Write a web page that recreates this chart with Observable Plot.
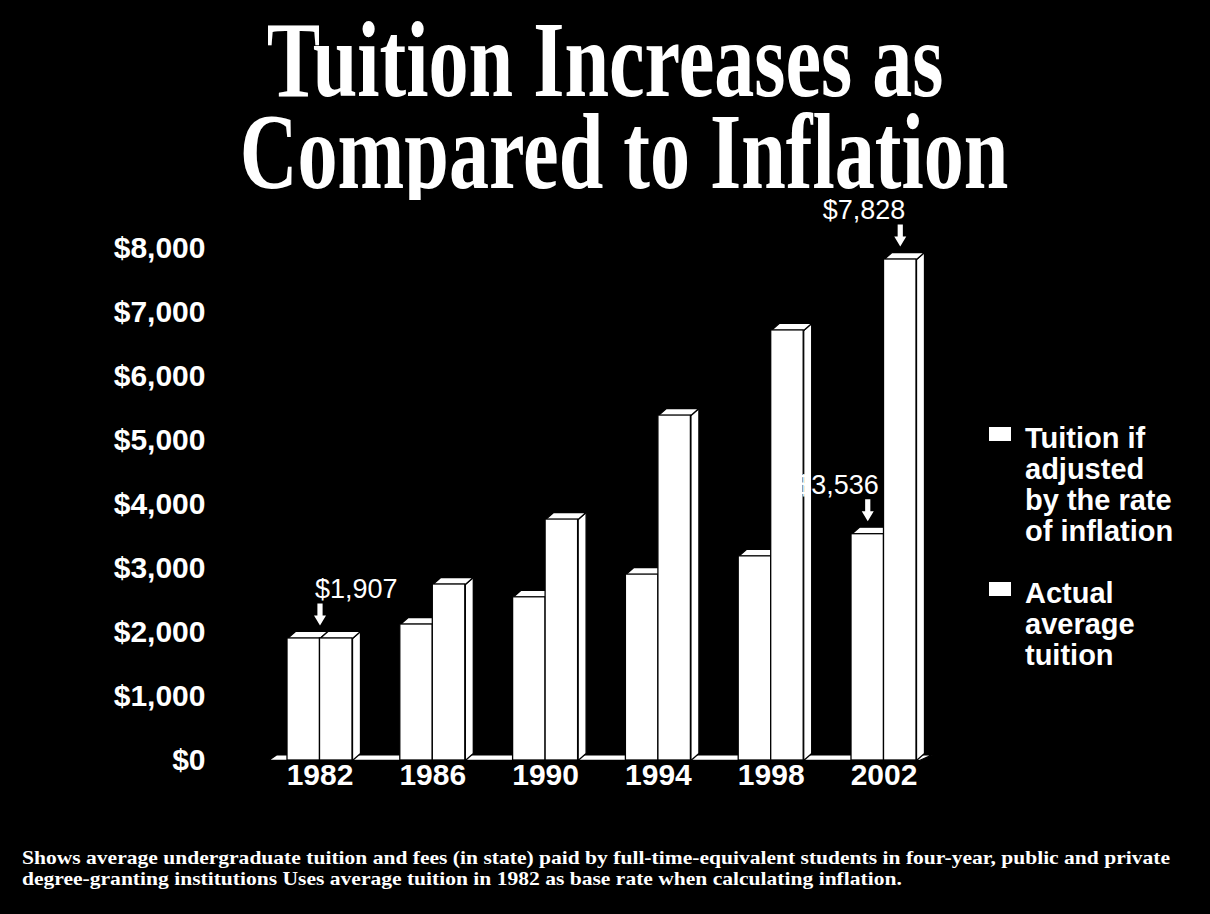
<!DOCTYPE html>
<html>
<head>
<meta charset="utf-8">
<script src="https://cdn.jsdelivr.net/npm/d3@7"></script>
<script src="https://cdn.jsdelivr.net/npm/@observablehq/plot@0.6"></script>
<style>
  html, body { margin: 0; padding: 0; background: #000; }
  #page { position: relative; width: 1210px; height: 914px; background: #000; overflow: hidden;
          font-family: "Liberation Sans", Arial, sans-serif; color: #fff; }
  #title { position: absolute; left: 0; top: 14px; width: 1210px; text-align: center; white-space: nowrap;
           font-family: "Liberation Serif", "Times New Roman", serif; font-weight: bold;
           font-size: 108px; line-height: 92px; }
  #title span { display: inline-block; transform: scaleX(0.742); transform-origin: 50% 50%; }
  #chart { position: absolute; left: 0; top: 200px; }
  .lg-swatch { position: absolute; width: 22px; height: 14px; background: #fff; }
  .lg-text { position: absolute; font-weight: bold; font-size: 29px; line-height: 31px; white-space: nowrap; }
  #note { position: absolute; left: 22px; top: 847px; font-family: "Liberation Serif", "Times New Roman", serif;
          font-weight: bold; font-size: 19px; line-height: 21px; white-space: nowrap; }
  #note span { display: inline-block; transform-origin: 0 50%; }
</style>
</head>
<body>
<div id="page">
  <div id="title"><span>Tuition Increases as</span><br><span style="position:relative; left:19px;">Compared to Inflation</span></div>
  <div id="chart"></div>
  <div id="legend"></div>
  <div id="note"><span>Shows average undergraduate tuition and fees (in state) paid by full-time-equivalent students in four-year, public and private</span><br><span>degree-granting institutions Uses average tuition in 1982 as base rate when calculating inflation.</span></div>
</div>
<script>
// ---- data ----
const years = [1982, 1986, 1990, 1994, 1998, 2002];
const inflationAdjusted = [1907, 2125, 2550, 2905, 3190, 3536];
const actualTuition = [1907, 2750, 3765, 5390, 6720, 7828];
const seriesNames = ["Tuition if adjusted by the rate of inflation", "Actual average tuition"];
const legendLines = [["Tuition if", "adjusted", "by the rate", "of inflation"], ["Actual", "average", "tuition"]];
const yTicks = [0, 1000, 2000, 3000, 4000, 5000, 6000, 7000, 8000];
const calloutYears = [1982, 2002, 2002];
const calloutSeries = ["both", "inflation", "actual"];
const calloutValues = [1907, 3536, 7828];
const calloutLabels = ["$1,907", "$3,536", "$7,828"];

// ---- layout (styling) ----
const W = 1210, H = 620;
const mL = 215, mR = 0, mT = 48, mB = 60;
const GROUP_PX = 112.8;           // pixels per group step
const FIRST_CENTER_PX = 319.5;    // pixel centre of first group
const xDomain = [(mL - FIRST_CENTER_PX) / GROUP_PX, (W - mR - FIRST_CENTER_PX) / GROUP_PX];
const yDomain = [0, 8000];
const UX = 1 / GROUP_PX;                              // x units per pixel
const UY = (yDomain[1] - yDomain[0]) / (H - mT - mB); // dollars per pixel
const BAR = 32.5 * UX;   // bar width
const DX = 8 * UX;       // 3D depth, x
const DY = 7 * UY;       // 3D depth, y

const rows = years.map((year, i) => ({year, i, inflation: inflationAdjusted[i], actual: actualTuition[i]}));
const barsInfl = rows.map(r => ({id: "i" + r.year, x1: r.i - BAR, x2: r.i, value: r.inflation}));
const barsAct = rows.map(r => ({id: "a" + r.year, x1: r.i, x2: r.i + BAR, value: r.actual}));

const poly = (id, pts) => pts.map(([x, y]) => ({id, x, y}));
const sideFaces = bars => bars.flatMap(b => poly(b.id + "s",
  [[b.x2, 0], [b.x2 + DX, DY], [b.x2 + DX, b.value + DY], [b.x2, b.value]]));
const topFaces = bars => bars.flatMap(b => poly(b.id + "t",
  [[b.x1, b.value], [b.x2, b.value], [b.x2 + DX, b.value + DY], [b.x1 + DX, b.value + DY]]));

const floorL = -0.4566, floorR = years.length - 1 + BAR + 3 * UX;
const floor = poly("floor", [[floorL, 0], [floorR, 0], [floorR + DX * 1.6, DY * 0.8], [floorL + DX, DY * 0.8]]);

const callouts = calloutYears.map((year, k) => {
  const i = years.indexOf(year);
  const s = calloutSeries[k];
  const x = s === "both" ? i : s === "inflation" ? i - BAR / 2 : i + BAR / 2;
  return {year, series: s, value: calloutValues[k], label: calloutLabels[k], x};
});
// block arrows (pixel outline relative to tip, converted through scale units)
const arrowShape = [[0, 0], [-6, 10], [-2.6, 10], [-2.6, 22], [2.6, 22], [2.6, 10], [6, 10]];
const arrows = callouts.flatMap((c, k) => poly("arr" + k,
  arrowShape.map(([px, py]) => [c.x + px * UX, c.value + DY + (6 + py) * UY])));

const faceStyle = {x: "x", y: "y", z: "id", curve: "linear-closed", fill: "white", stroke: "black", strokeWidth: 1.3};
const barStyle = {x1: "x1", x2: "x2", y1: 0, y2: "value", fill: "white", stroke: "black", strokeWidth: 1.3};
const labelStyle = {x: "x", y: "value", text: "label", dy: -49, fontSize: 27, fill: "white", lineAnchor: "middle"};

const chart = Plot.plot({
  width: W, height: H,
  marginLeft: mL, marginRight: mR, marginTop: mT, marginBottom: mB,
  style: {background: "black", color: "white", fontFamily: "Liberation Sans, Arial, sans-serif", overflow: "visible"},
  x: {type: "linear", domain: xDomain},
  y: {domain: yDomain},
  marks: [
    Plot.line(floor, faceStyle),
    Plot.line(sideFaces(barsInfl), faceStyle),
    Plot.line(topFaces(barsInfl), faceStyle),
    Plot.rect(barsInfl, barStyle),
    Plot.line(sideFaces(barsAct), faceStyle),
    Plot.line(topFaces(barsAct), faceStyle),
    Plot.rect(barsAct, barStyle),
    Plot.line(arrows, {x: "x", y: "y", z: "id", curve: "linear-closed", fill: "white", stroke: "none"}),
    Plot.text(callouts.filter(c => c.series === "both"), {...labelStyle, textAnchor: "start", dx: -5}),
    Plot.text(callouts.filter(c => c.series === "inflation"), {...labelStyle, textAnchor: "end", dx: 11}),
    Plot.text(callouts.filter(c => c.series === "actual"), {...labelStyle, textAnchor: "end", dx: 5}),
    Plot.axisY({ticks: yTicks, tickFormat: d3.format("$,"), tickSize: 0, tickPadding: 10,
                fontSize: 30, fontWeight: "bold", fill: "white", label: null}),
    Plot.axisX({ticks: years.map((_, i) => i), tickFormat: i => String(years[i]), tickSize: 0, tickPadding: 3,
                fontSize: 30, fontWeight: "bold", fill: "white", label: null})
  ]
});
document.getElementById("chart").appendChild(chart);

// ---- legend ----
const legend = document.getElementById("legend");
const legendTops = [423, 578];
seriesNames.forEach((name, k) => {
  const sw = document.createElement("div");
  sw.className = "lg-swatch";
  sw.title = name;
  sw.style.left = "989px";
  sw.style.top = (legendTops[k] + 4) + "px";
  legend.appendChild(sw);
  const tx = document.createElement("div");
  tx.className = "lg-text";
  tx.style.left = "1025px";
  tx.style.top = legendTops[k] + "px";
  tx.innerHTML = legendLines[k].join("<br>");
  legend.appendChild(tx);
});

// ---- footnote width fit ----
const noteSpans = document.querySelectorAll("#note span");
const firstW = noteSpans[0].getBoundingClientRect().width;
const k = 1148 / firstW;
noteSpans.forEach(s => { s.style.transform = `scaleX(${k})`; });
</script>
</body>
</html>
